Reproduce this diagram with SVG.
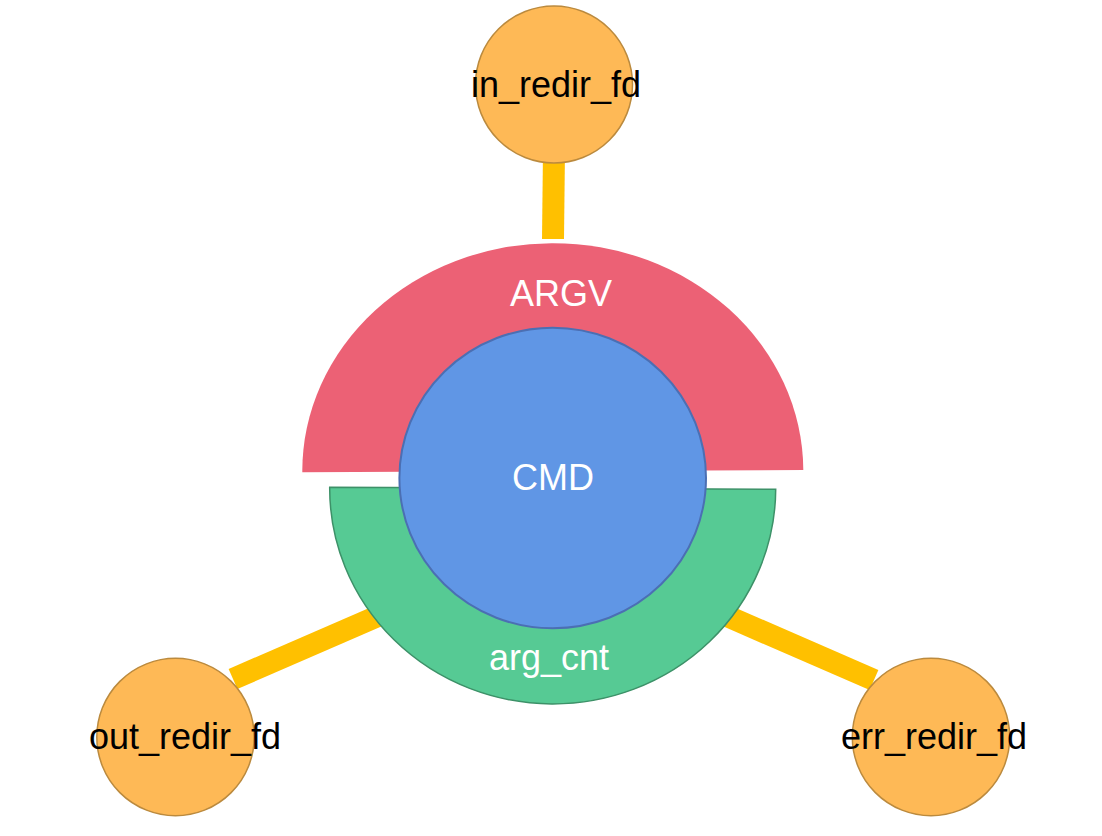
<svg xmlns="http://www.w3.org/2000/svg" width="1102" height="836" viewBox="0 0 1102 836">
<style>
.lbl{font-family:"Liberation Sans",Arial,sans-serif;font-size:36px;text-anchor:middle}
.w{fill:#ffffff}
.k{fill:#000000}
.leaf{fill:#feb956;stroke:#bb8a3e;stroke-width:1.5}
.conn{stroke:#ffc000;stroke-width:22;fill:none;stroke-linecap:butt}
</style>
<rect width="1102" height="836" fill="#ffffff"/>
<g id="connectors">
<line class="conn" x1="554" y1="150" x2="553" y2="239"/>
<line class="conn" x1="233" y1="679" x2="385" y2="613"/>
<line class="conn" x1="720" y1="613" x2="874" y2="680"/>
</g>
<g id="argv">
<path d="M302.3,472.3 A250.5,228 0 0 1 803.3,470 Z" fill="#ec6175"/>
<text class="lbl w" x="561" y="306">ARGV</text>
</g>
<g id="arg_cnt">
<path d="M329.7,487.3 L775.7,489.3 A223,215.7 0 0 1 329.7,487.3 Z" fill="#56ca94" stroke="#3d9168" stroke-width="1.5"/>
<text class="lbl w" x="549" y="670">arg_cnt</text>
</g>
<g id="cmd">
<ellipse cx="552.7" cy="478" rx="153.3" ry="150.3" fill="#6096e5" stroke="#4b6fb3" stroke-width="2"/>
<text class="lbl w" x="553" y="490">CMD</text>
</g>
<g id="in_redir_fd">
<circle class="leaf" cx="554" cy="84.5" r="78.5"/>
<text class="lbl k" x="556" y="97">in_redir_fd</text>
</g>
<g id="out_redir_fd">
<circle class="leaf" cx="175.5" cy="737" r="78.7"/>
<text class="lbl k" x="185" y="749">out_redir_fd</text>
</g>
<g id="err_redir_fd">
<circle class="leaf" cx="931" cy="737" r="78.7"/>
<text class="lbl k" x="934" y="749">err_redir_fd</text>
</g>
</svg>
